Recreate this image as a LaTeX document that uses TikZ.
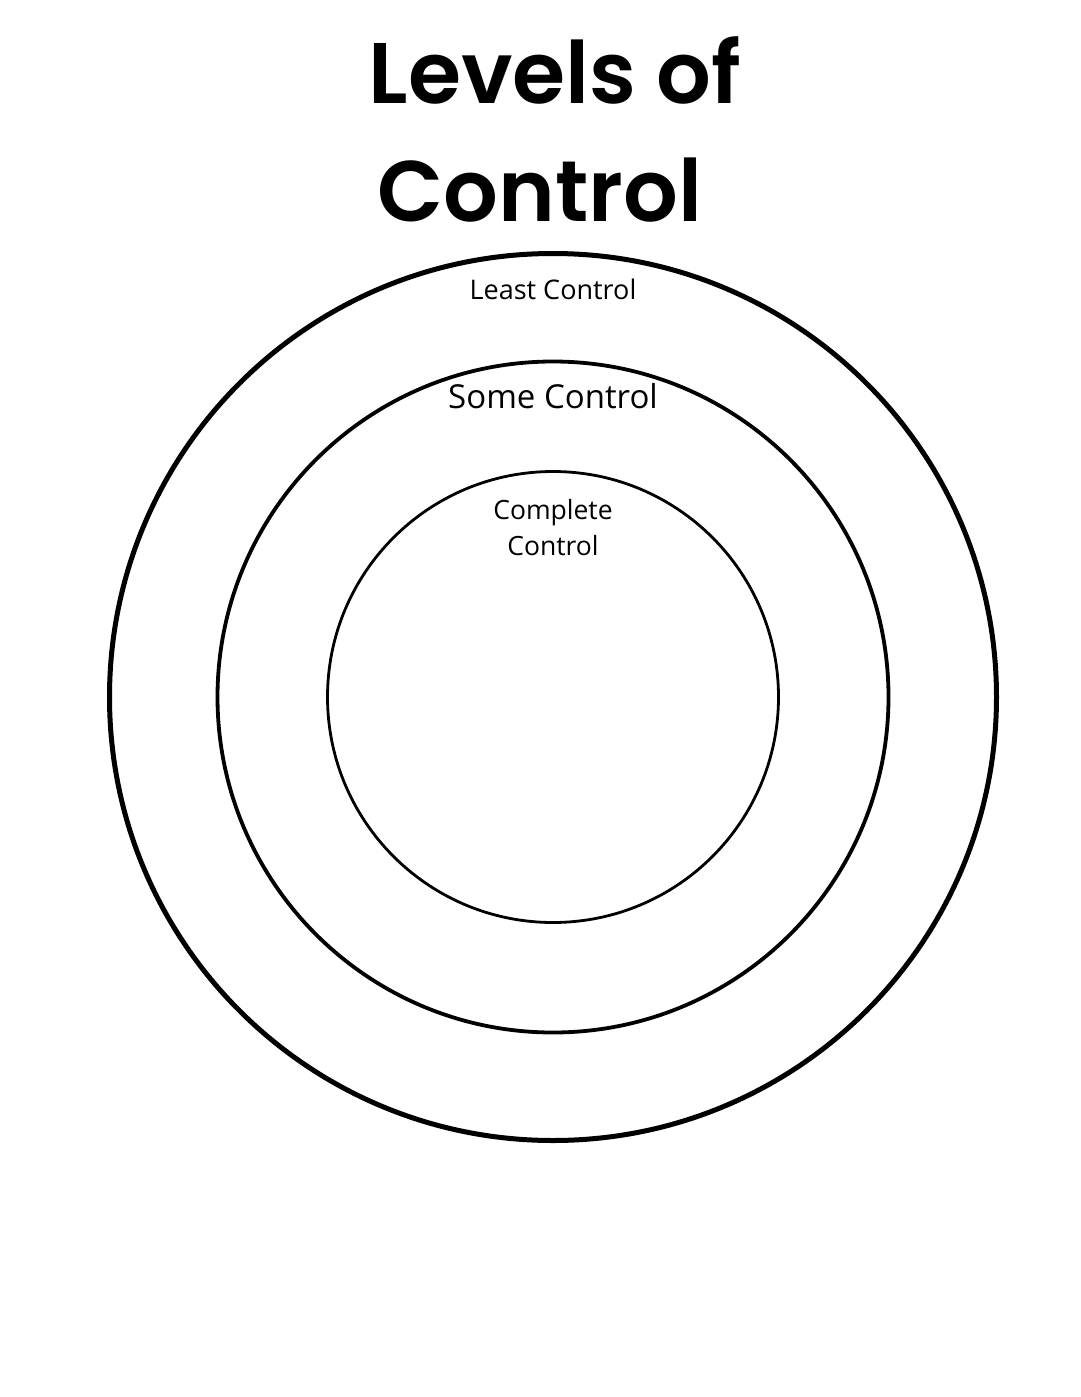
\documentclass[tikz,border=0pt]{standalone}
\usepackage{fontspec}
\setmainfont{Open Sans}
\newfontfamily\titlefont{Poppins}[UprightFont=* SemiBold]
\begin{document}
\begin{tikzpicture}[x=1pt,y=-1pt,
  ring/.style={draw=black,fill=none},
  lbl/.style={inner sep=0pt,align=center}]
\useasboundingbox (0,0) rectangle (1080,1397);
\node[lbl,font={\titlefont\fontsize{86}{120}\selectfont}] (t1) at (555,70) {Levels of};
\node[lbl,font={\titlefont\fontsize{86}{120}\selectfont}] (t2) at (540,190) {Control};
\draw[ring,line width=5] (553,697) circle (443.5);
\draw[ring,line width=3.8] (553,697) circle (335.5);
\draw[ring,line width=2.8] (553,697) circle (225.5);
\node[lbl,font={\fontsize{27}{30}\selectfont}] (l1) at (553,289) {Least Control};
\node[lbl,font={\fontsize{33}{36}\selectfont}] (l2) at (553,396) {Some Control};
\node[lbl,font={\fontsize{26.5}{36}\selectfont}] (l3) at (553,528) {Complete\\Control};
\end{tikzpicture}
\end{document}
